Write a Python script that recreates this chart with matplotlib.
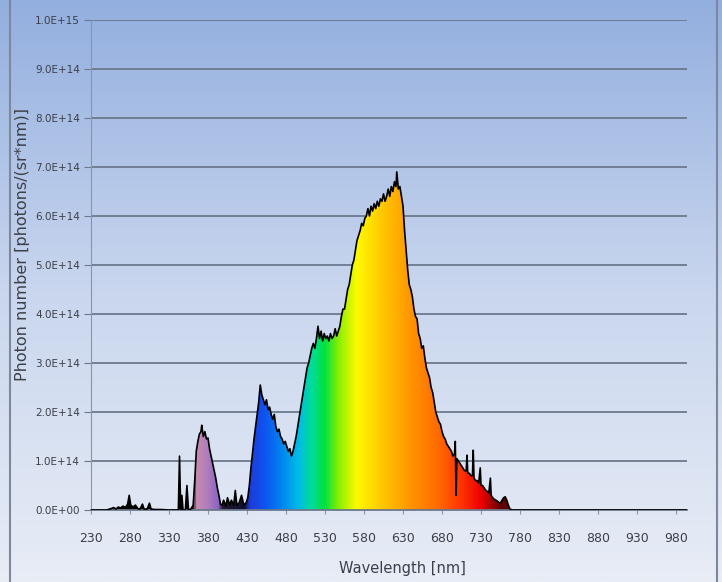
import matplotlib.pyplot as plt
import numpy as np
from matplotlib.colors import LinearSegmentedColormap

# spectrum (photon number in units of 1E+14)
wavelength_nm = [230, 250, 256, 259, 262, 265, 268, 271, 274, 277, 279, 281, 284, 287, 290,
                 293, 296, 298, 302, 305, 307, 312, 320, 330, 340, 342, 343.5, 345, 346.5, 348,
                 351, 353, 355, 358, 361, 363, 365, 367, 369, 371, 372, 374, 376, 378, 380,
                 382, 384, 386, 388, 390, 392, 394, 396, 398, 400, 403, 405, 408, 410, 413,
                 415, 417, 420, 423, 426, 429, 431, 433, 435, 437, 439, 441, 443, 445, 447,
                 449, 451, 453, 455, 457, 459, 461, 463, 465, 467, 469, 471, 473, 475, 477,
                 479, 481, 483, 485, 487, 489, 491, 493, 495, 497, 499, 501, 503, 505, 507,
                 509, 511, 513, 515, 517, 519, 521, 523, 525, 527, 529, 531, 533, 535, 537,
                 539, 541, 543, 545, 547, 549, 551, 553, 555, 557, 559, 561, 563, 565, 567,
                 569, 571, 573, 575, 577, 579, 581, 583, 585, 587, 589, 591, 593, 595, 597,
                 599, 601, 603, 605, 607, 609, 611, 613, 615, 617, 619, 621, 622, 624, 626,
                 628, 630, 632, 634, 636, 638, 640, 642, 644, 646, 648, 650, 652, 654, 656,
                 658, 660, 662, 664, 666, 668, 670, 672, 674, 676, 678, 680, 682, 684, 686,
                 688, 690, 692, 694, 696, 697, 698, 699, 701, 703, 705, 707, 709, 711, 712,
                 713, 715, 717, 719, 720, 721, 723, 725, 727, 729, 730, 732, 734, 736, 738,
                 740, 742, 743, 745, 747, 749, 751, 753, 755, 757, 759, 761, 763, 765, 767,
                 770, 780, 1000]
photons_e14 = [0, 0, 0.03, 0.05, 0.02, 0.06, 0.04, 0.08, 0.05, 0.12, 0.3, 0.1, 0.06, 0.1, 0.03,
               0.02, 0.12, 0.02, 0.02, 0.14, 0.02, 0.01, 0.01, 0, 0, 0, 1.1, 0, 0.3, 0,
               0, 0.5, 0, 0.02, 0.1, 0.6, 1.2, 1.4, 1.55, 1.6, 1.73, 1.5, 1.6, 1.45, 1.47,
               1.25, 1.1, 0.95, 0.8, 0.65, 0.45, 0.3, 0.12, 0.1, 0.2, 0.08, 0.25, 0.1, 0.2, 0.1,
               0.4, 0.1, 0.15, 0.3, 0.1, 0.15, 0.25, 0.5, 0.85, 1.15, 1.45, 1.7, 1.95, 2.2, 2.55,
               2.35, 2.25, 2.15, 2.25, 2.05, 2.1, 1.95, 1.85, 1.95, 1.7, 1.6, 1.65, 1.5, 1.45, 1.35,
               1.4, 1.3, 1.2, 1.25, 1.1, 1.2, 1.35, 1.5, 1.7, 1.9, 2.1, 2.3, 2.5, 2.7, 2.9,
               3.0, 3.15, 3.3, 3.4, 3.3, 3.5, 3.75, 3.5, 3.65, 3.45, 3.6, 3.5, 3.55, 3.45, 3.6,
               3.5, 3.55, 3.7, 3.55, 3.65, 3.75, 3.95, 4.1, 4.1, 4.3, 4.5, 4.6, 4.8, 5.0, 5.1,
               5.3, 5.5, 5.6, 5.7, 5.85, 5.8, 5.95, 6.0, 6.15, 6.0, 6.2, 6.1, 6.25, 6.15, 6.3,
               6.2, 6.35, 6.3, 6.45, 6.3, 6.4, 6.55, 6.4, 6.6, 6.5, 6.7, 6.6, 6.9, 6.55, 6.6,
               6.4, 6.2, 5.7, 5.3, 4.9, 4.6, 4.5, 4.35, 4.1, 3.95, 3.9, 3.6, 3.5, 3.3, 3.35,
               3.1, 2.9, 2.8, 2.7, 2.5, 2.4, 2.2, 2.0, 1.9, 1.8, 1.75, 1.6, 1.5, 1.45, 1.35,
               1.3, 1.25, 1.2, 1.1, 1.15, 1.4, 0.3, 1.05, 1.0, 0.95, 0.9, 0.85, 0.8, 0.8, 1.12,
               0.75, 0.75, 0.7, 0.7, 1.22, 0.65, 0.6, 0.6, 0.55, 0.86, 0.5, 0.5, 0.45, 0.4, 0.38,
               0.35, 0.65, 0.3, 0.25, 0.22, 0.2, 0.18, 0.15, 0.15, 0.2, 0.25, 0.27, 0.2, 0.1, 0.02,
               0, 0, 0]

x_ticks = [230, 280, 330, 380, 430, 480, 530, 580, 630, 680, 730, 780, 830, 880, 930, 980]
y_tick_labels = ['0.0E+00', '1.0E+14', '2.0E+14', '3.0E+14', '4.0E+14', '5.0E+14',
                 '6.0E+14', '7.0E+14', '8.0E+14', '9.0E+14', '1.0E+15']

# colour of the fill by wavelength
spectrum_stops = [(230, '#000000'), (360, '#000000'), (363, '#c88cb0'), (378, '#b07cbc'),
                  (392, '#8c64c4'), (397, '#241830'), (426, '#101030'), (432, '#1e3cd8'),
                  (450, '#1050f0'), (475, '#0088f0'), (495, '#00bce6'), (512, '#00dc9a'),
                  (528, '#00e040'), (548, '#90f000'), (570, '#fffa00'), (600, '#ffcc00'),
                  (635, '#ff9a00'), (675, '#ff6a00'), (705, '#ff3200'), (730, '#ee0000'),
                  (755, '#600000'), (994, '#000000')]

x_min, x_max = 230, 994
wl = np.array(wavelength_nm)
ph = np.array(photons_e14) * 1e14

fig = plt.figure(figsize=(7.22, 5.82), dpi=100)

# blue gradient background and frame
bg = fig.add_axes([0, 0, 1, 1], zorder=-10)
bg_cmap = LinearSegmentedColormap.from_list('bg', ['#e8edf6', '#c9d6ee', '#93afdf'])
bg.imshow(np.linspace(0, 1, 256).reshape(-1, 1), aspect='auto', cmap=bg_cmap,
          origin='lower', extent=[0, 1, 0, 1])
bg.plot([0.0145, 0.0145], [0, 1], color='#7d889c', lw=1.5)
bg.plot([0.9935, 0.9935], [0, 1], color='#7d889c', lw=1.5)
bg.set_xlim(0, 1)
bg.set_ylim(0, 1)
bg.axis('off')

ax = fig.add_axes([0.126, 0.1237, 0.8255, 0.842])
ax.patch.set_alpha(0)

pos = [(s[0] - x_min) / (x_max - x_min) for s in spectrum_stops]
spec_cmap = LinearSegmentedColormap.from_list('spec', list(zip(pos, [s[1] for s in spectrum_stops])))
fill = ax.fill_between(wl, ph, 0, color='none', lw=0)
img = ax.imshow(np.linspace(0, 1, 1000).reshape(1, -1), aspect='auto', cmap=spec_cmap,
                extent=[x_min, x_max, 0, 1e15], origin='lower', zorder=2)
img.set_clip_path(fill.get_paths()[0], transform=ax.transData)
ax.plot(wl, ph, color='black', lw=1.2, zorder=3)

ax.set_xlim(x_min, x_max)
ax.set_ylim(0, 1e15)
ax.set_yticks([i * 1e14 for i in range(11)])
ax.set_yticklabels(y_tick_labels)
ax.set_xticks(x_ticks)
ax.set_xticklabels([str(t) for t in x_ticks])
ax.grid(axis='y', color='#6c788c', lw=1.3, zorder=1)
ax.set_axisbelow(True)

for side in ['top', 'right']:
    ax.spines[side].set_visible(False)
ax.spines['left'].set_color('#8a94a6')
ax.spines['bottom'].set_color('#6c788c')
ax.spines['bottom'].set_linewidth(1.3)
ax.tick_params(axis='y', length=5, color='#6c788c', labelsize=7.5, labelcolor='#3c3f48', pad=3)
ax.tick_params(axis='x', length=3, color='#8a94a6', labelsize=9, labelcolor='#3c3f48', pad=13)
for lab in ax.get_yticklabels() + ax.get_xticklabels():
    lab.set_family(['Liberation Sans Narrow', 'DejaVu Sans'])

fig.text(0.0305, 0.58, 'Photon number [photons/(sr*nm)]', rotation=90, ha='center', va='center',
         fontsize=11.5, color='#3c3f48')
fig.text(0.558, 0.024, 'Wavelength [nm]', ha='center', va='center', fontsize=10.5,
         color='#3c3f48', family=['Liberation Sans Narrow', 'DejaVu Sans'])

fig.savefig('out.png', dpi=100)
